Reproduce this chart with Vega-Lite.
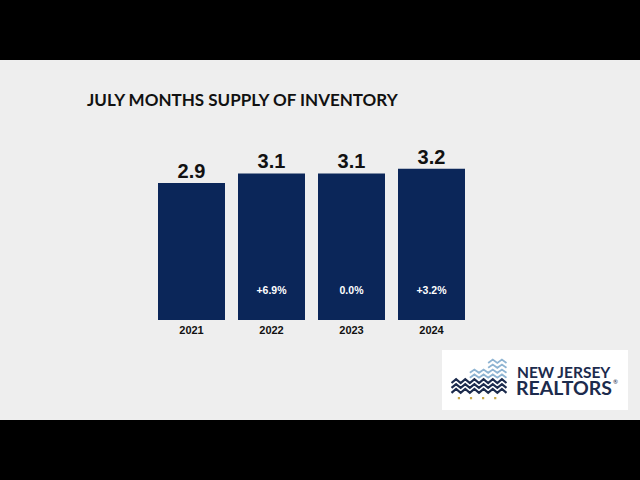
{
  "$schema": "https://vega.github.io/schema/vega-lite/v6.json",
  "width": 640,
  "height": 360,
  "autosize": {"type": "none"},
  "padding": {"top": 60, "bottom": 60, "left": 0, "right": 0},
  "background": "#000000",
  "view": {"fill": "#eeeeee", "stroke": null},
  "layer": [
    {
      "data": {"values": [
        {"year": "2021", "value": 2.9, "label": "2.9", "change": ""},
        {"year": "2022", "value": 3.1, "label": "3.1", "change": "+6.9%"},
        {"year": "2023", "value": 3.1, "label": "3.1", "change": "0.0%"},
        {"year": "2024", "value": 3.2, "label": "3.2", "change": "+3.2%"}
      ]},
      "encoding": {
        "x": {"field": "year", "type": "nominal", "axis": null,
              "scale": {"range": [158, 465], "paddingInner": 0.1625, "paddingOuter": 0}}
      },
      "layer": [
        {
          "mark": {"type": "bar", "color": "#0b2659"},
          "encoding": {
            "y": {"field": "value", "type": "quantitative", "axis": null,
                  "scale": {"domain": [-2.1154, 5.5], "nice": false, "zero": false}},
            "y2": {"datum": 0}
          }
        },
        {
          "mark": {"type": "text", "font": "Liberation Sans", "fontWeight": "bold", "fontSize": 20,
                   "baseline": "alphabetic", "dy": -5, "color": "#111111"},
          "encoding": {
            "y": {"field": "value", "type": "quantitative", "axis": null,
                  "scale": {"domain": [-2.1154, 5.5], "nice": false, "zero": false}},
            "text": {"field": "label"}
          }
        },
        {
          "mark": {"type": "text", "font": "Liberation Sans", "fontWeight": "bold", "fontSize": 10.5,
                   "baseline": "middle", "color": "#ffffff"},
          "encoding": {
            "y": {"datum": 0.61, "type": "quantitative", "axis": null,
                  "scale": {"domain": [-2.1154, 5.5], "nice": false, "zero": false}},
            "text": {"field": "change"}
          }
        },
        {
          "mark": {"type": "text", "font": "Liberation Sans", "fontWeight": "bold", "fontSize": 11,
                   "baseline": "middle", "color": "#111111"},
          "encoding": {
            "y": {"datum": -0.24, "type": "quantitative", "axis": null,
                  "scale": {"domain": [-2.1154, 5.5], "nice": false, "zero": false}},
            "text": {"field": "year"}
          }
        }
      ]
    },
    {
      "data": {"values": [
        {"title": "JULY MONTHS SUPPLY OF INVENTORY", "brand1": "NEW JERSEY", "brand2": "REALTORS", "reg": "®"}
      ]},
      "layer": [
        {
          "mark": {"type": "text", "font": "Lato", "fontWeight": "bold", "fontSize": 17,
                   "align": "left", "baseline": "middle", "color": "#111111"},
          "encoding": {
            "x": {"datum": 87, "type": "quantitative", "axis": null, "scale": {"domain": [0, 640], "nice": false, "zero": false}},
            "y": {"datum": 101, "type": "quantitative", "axis": null, "scale": {"domain": [60, 420], "reverse": true, "nice": false, "zero": false}},
            "text": {"field": "title"}
          }
        },
        {
          "mark": {"type": "rect", "color": "#ffffff"},
          "encoding": {
            "x": {"datum": 442, "type": "quantitative", "axis": null, "scale": {"domain": [0, 640], "nice": false, "zero": false}},
            "x2": {"datum": 628},
            "y": {"datum": 350, "type": "quantitative", "axis": null, "scale": {"domain": [60, 420], "reverse": true, "nice": false, "zero": false}},
            "y2": {"datum": 410}
          }
        },
        {
          "mark": {"type": "point", "filled": false, "strokeWidth": 2.2, "color": "#1c2b4d", "opacity": 1, "size": 3025,
                   "shape": "M-1,-0.11 L-0.833,-0.25 L-0.667,-0.11 L-0.5,-0.25 L-0.333,-0.11 L-0.167,-0.25 L0,-0.11 L0.167,-0.25 L0.333,-0.11 L0.5,-0.25 L0.667,-0.11 L0.833,-0.25 L1,-0.11 M-1,0.07 L-0.833,-0.07 L-0.667,0.07 L-0.5,-0.07 L-0.333,0.07 L-0.167,-0.07 L0,0.07 L0.167,-0.07 L0.333,0.07 L0.5,-0.07 L0.667,0.07 L0.833,-0.07 L1,0.07 M-1,0.25 L-0.833,0.11 L-0.667,0.25 L-0.5,0.11 L-0.333,0.25 L-0.167,0.11 L0,0.25 L0.167,0.11 L0.333,0.25 L0.5,0.11 L0.667,0.25 L0.833,0.11 L1,0.25"},
          "encoding": {
            "x": {"datum": 479, "type": "quantitative", "axis": null, "scale": {"domain": [0, 640], "nice": false, "zero": false}},
            "y": {"datum": 386, "type": "quantitative", "axis": null, "scale": {"domain": [60, 420], "reverse": true, "nice": false, "zero": false}}
          }
        },
        {
          "mark": {"type": "point", "filled": false, "strokeWidth": 1.8, "color": "#8fb4d2", "opacity": 1, "size": 3025,
                   "shape": "M-0.333,-0.48 L-0.167,-0.6 L0,-0.48 L0.167,-0.6 L0.333,-0.48 L0.5,-0.6 L0.667,-0.48 L0.833,-0.6 L1,-0.48 M-0.333,-0.3 L-0.167,-0.42 L0,-0.3 L0.167,-0.42 L0.333,-0.3 L0.5,-0.42 L0.667,-0.3 L0.833,-0.42 L1,-0.3 M0.333,-0.84 L0.5,-0.96 L0.667,-0.84 L0.833,-0.96 L1,-0.84 M0.333,-0.66 L0.5,-0.78 L0.667,-0.66 L0.833,-0.78 L1,-0.66"},
          "encoding": {
            "x": {"datum": 479, "type": "quantitative", "axis": null, "scale": {"domain": [0, 640], "nice": false, "zero": false}},
            "y": {"datum": 386, "type": "quantitative", "axis": null, "scale": {"domain": [60, 420], "reverse": true, "nice": false, "zero": false}}
          }
        },
        {
          "mark": {"type": "point", "filled": true, "color": "#c9a84a", "opacity": 1, "size": 3025, "strokeWidth": 0,
                   "shape": "M-0.77,0.4 h0.08 v0.08 h-0.08 Z M-0.33,0.4 h0.08 v0.08 h-0.08 Z M0.11,0.4 h0.08 v0.08 h-0.08 Z M0.55,0.4 h0.08 v0.08 h-0.08 Z"},
          "encoding": {
            "x": {"datum": 479, "type": "quantitative", "axis": null, "scale": {"domain": [0, 640], "nice": false, "zero": false}},
            "y": {"datum": 386, "type": "quantitative", "axis": null, "scale": {"domain": [60, 420], "reverse": true, "nice": false, "zero": false}}
          }
        },
        {
          "mark": {"type": "text", "font": "Lato", "fontWeight": "bold", "fontSize": 15.5,
                   "align": "left", "baseline": "alphabetic", "color": "#1c2b4d"},
          "encoding": {
            "x": {"datum": 517, "type": "quantitative", "axis": null, "scale": {"domain": [0, 640], "nice": false, "zero": false}},
            "y": {"datum": 378, "type": "quantitative", "axis": null, "scale": {"domain": [60, 420], "reverse": true, "nice": false, "zero": false}},
            "text": {"field": "brand1"}
          }
        },
        {
          "mark": {"type": "text", "font": "Lato", "fontWeight": "bold", "fontSize": 19.5,
                   "align": "left", "baseline": "alphabetic", "color": "#1c2b4d"},
          "encoding": {
            "x": {"datum": 516, "type": "quantitative", "axis": null, "scale": {"domain": [0, 640], "nice": false, "zero": false}},
            "y": {"datum": 395, "type": "quantitative", "axis": null, "scale": {"domain": [60, 420], "reverse": true, "nice": false, "zero": false}},
            "text": {"field": "brand2"}
          }
        },
        {
          "mark": {"type": "text", "font": "Lato", "fontSize": 6,
                   "align": "left", "baseline": "middle", "color": "#1c2b4d"},
          "encoding": {
            "x": {"datum": 613, "type": "quantitative", "axis": null, "scale": {"domain": [0, 640], "nice": false, "zero": false}},
            "y": {"datum": 382, "type": "quantitative", "axis": null, "scale": {"domain": [60, 420], "reverse": true, "nice": false, "zero": false}},
            "text": {"field": "reg"}
          }
        }
      ]
    }
  ],
  "resolve": {"scale": {"x": "independent", "y": "independent"}}
}
